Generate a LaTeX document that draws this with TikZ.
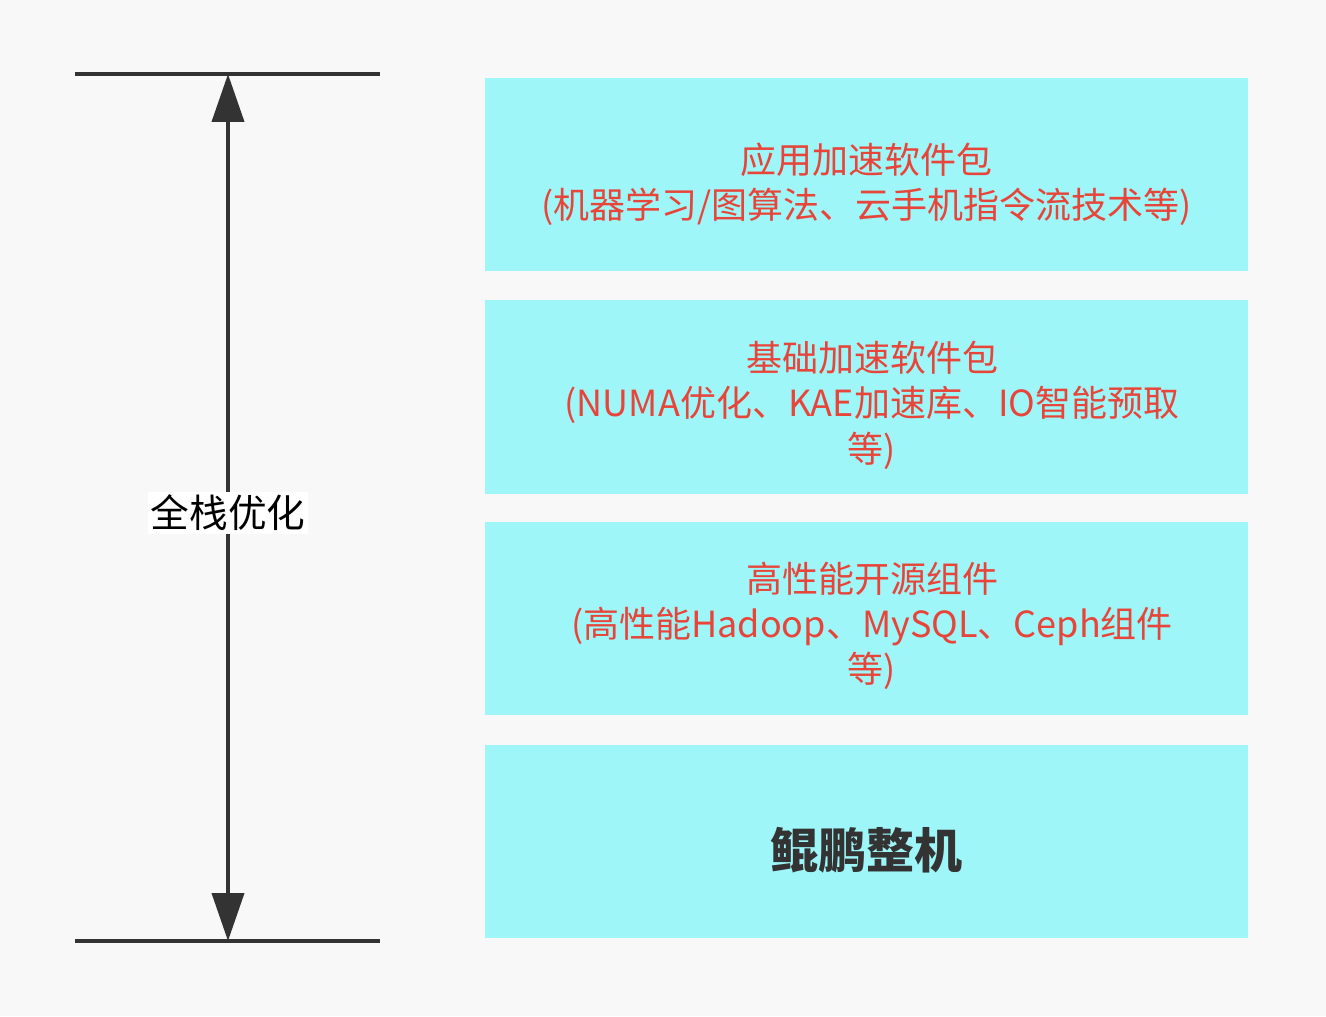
\documentclass[tikz,border=0pt]{standalone}
\usepackage{fontspec}
\setmainfont{Noto Sans CJK SC}
\usetikzlibrary{arrows.meta}
\definecolor{bg}{HTML}{F8F8F8}
\definecolor{cy}{HTML}{9EF6F8}
\definecolor{rd}{HTML}{E8453A}
\definecolor{dk}{HTML}{333333}
\tikzset{layer/.style={fill=cy,draw=none,minimum width=572pt,minimum height=145pt,inner sep=0pt},
 ltxt/.style={text=rd,font=\fontsize{27}{34}\selectfont,align=center},
 bar/.style={line width=3pt,draw=dk}}
\begin{document}
\begin{tikzpicture}[x=0.75pt,y=-0.75pt]
\fill[bg] (0,0) rectangle (1326,1016);
\useasboundingbox (0,0) rectangle (1326,1016);
\node[layer] (b1) at (866.5,174.5) {};
\node[layer] (b2) at (866.5,397) {};
\node[layer] (b3) at (866.5,618.5) {};
\node[layer] (b4) at (866.5,841.5) {};
\node[ltxt] (t1) at (866.5,184) {应用加速软件包\\(机器学习/图算法、云手机指令流技术等)};
\node[ltxt] (t2) at (872,405) {基础加速软件包\\(NUMA优化、KAE加速库、IO智能预取\\等)};
\node[ltxt] (t3) at (872,626) {高性能开源组件\\(高性能Hadoop、MySQL、Ceph组件\\等)};
\node[text=dk,font=\fontsize{36}{40}\selectfont\bfseries] (t4) at (866,850) {鲲鹏整机};
\coordinate (tl) at (75,74); \coordinate (tr) at (380,74);
\coordinate (bl) at (75,941); \coordinate (br) at (380,941);
\draw[bar] (tl) -- (tr);
\draw[bar] (bl) -- (br);
\coordinate (at) at (228,74); \coordinate (ab) at (228,941);
\draw[bar,{Triangle[length=36pt,width=24pt]}-{Triangle[length=36pt,width=24pt]}] (at) -- (ab);
\node[fill=white,text=black,font=\fontsize{29}{30}\selectfont,inner sep=2pt] (lab) at (228,513) {全栈优化};
\end{tikzpicture}
\end{document}
